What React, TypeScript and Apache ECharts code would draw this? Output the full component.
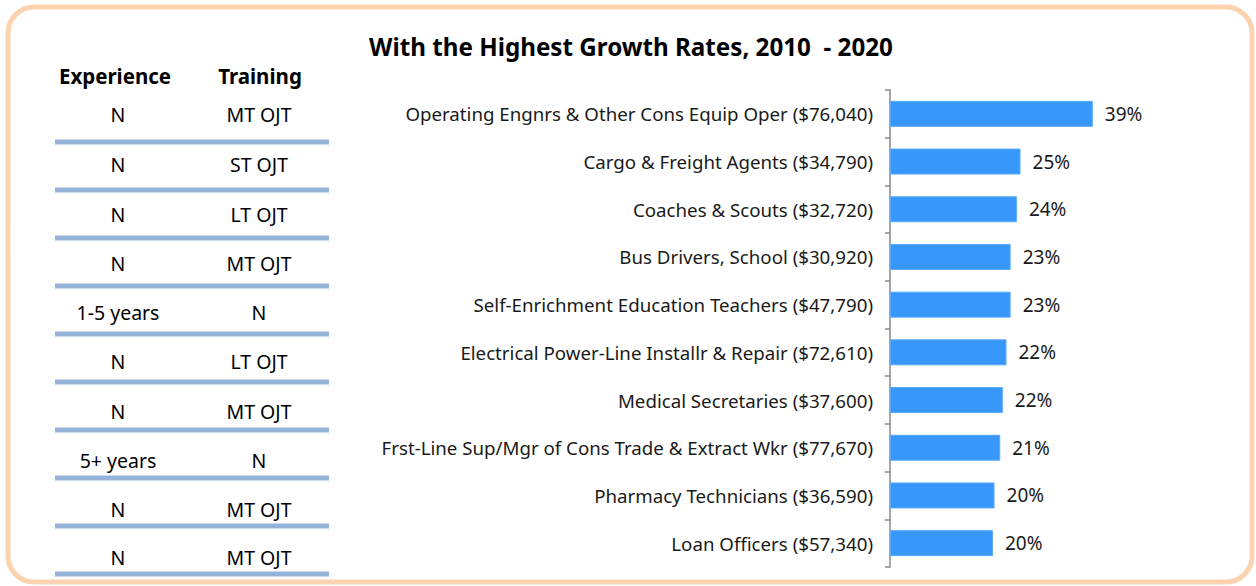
import React, { useEffect, useRef } from "react";
import * as echarts from "echarts";

const categories = [
  "Operating Engnrs & Other Cons Equip Oper ($76,040)",
  "Cargo & Freight Agents ($34,790)",
  "Coaches & Scouts ($32,720)",
  "Bus Drivers, School ($30,920)",
  "Self-Enrichment Education Teachers ($47,790)",
  "Electrical Power-Line Installr & Repair ($72,610)",
  "Medical Secretaries ($37,600)",
  "Frst-Line Sup/Mgr of Cons Trade & Extract Wkr ($77,670)",
  "Pharmacy Technicians ($36,590)",
  "Loan Officers ($57,340)",
];
const growthRates = [39.0, 25.1, 24.4, 23.2, 23.2, 22.4, 21.7, 21.2, 20.1, 19.8];
const experience = ["N", "N", "N", "N", "1-5 years", "N", "N", "5+ years", "N", "N"];
const training = ["MT OJT", "ST OJT", "LT OJT", "MT OJT", "N", "LT OJT", "MT OJT", "N", "MT OJT", "MT OJT"];
const tableHeaders = ["Experience", "Training"];
const chartTitle = "With the Highest Growth Rates, 2010  - 2020";

const FONT = "'Noto Sans', 'Open Sans', sans-serif";
const TEXT = "#1a1a1a";

export default function App() {
  const ref = useRef<HTMLDivElement>(null);
  useEffect(() => {
    if (!ref.current) return;
    const chart = echarts.init(ref.current, null, { renderer: "svg" });
    const rowY = [114, 164, 214, 263, 312, 361, 411, 460, 509, 557];
    const lineY = [142, 190, 238, 286, 334, 382, 430, 478, 526, 574];
    const graphics: any[] = [
      {
        type: "rect",
        shape: { x: 8, y: 7, width: 1244, height: 575, r: 26 },
        style: { fill: "#fff", stroke: "#FBD3B0", lineWidth: 5 },
        z: -10,
      },
      {
        type: "text",
        x: 631,
        y: 46,
        style: {
          text: chartTitle,
          font: `bold 24.2px ${FONT}`,
          fill: "#000",
          align: "center",
          verticalAlign: "middle",
        },
      },
      {
        type: "text",
        x: 115,
        y: 76,
        style: { text: tableHeaders[0], font: `bold 20.5px ${FONT}`, fill: "#000", align: "center", verticalAlign: "middle" },
      },
      {
        type: "text",
        x: 260,
        y: 76,
        style: { text: tableHeaders[1], font: `bold 20.5px ${FONT}`, fill: "#000", align: "center", verticalAlign: "middle" },
      },
    ];
    experience.forEach((e, i) => {
      graphics.push({
        type: "text",
        x: 118,
        y: rowY[i],
        style: { text: e, font: `19.5px ${FONT}`, fill: "#000", align: "center", verticalAlign: "middle" },
      });
      graphics.push({
        type: "text",
        x: 259,
        y: rowY[i],
        style: { text: training[i], font: `19.5px ${FONT}`, fill: "#000", align: "center", verticalAlign: "middle" },
      });
      graphics.push({
        type: "line",
        shape: { x1: 55, y1: lineY[i], x2: 329, y2: lineY[i] },
        style: { stroke: "#95B3D7", lineWidth: 5 },
      });
    });

    chart.setOption({
      animation: false,
      grid: { left: 890, top: 90, height: 477, width: 260, containLabel: false },
      xAxis: { type: "value", min: 0, max: 50, show: false },
      yAxis: {
        type: "category",
        inverse: true,
        data: categories,
        axisLine: { show: true, lineStyle: { color: "#8a8a8a", width: 1.5 } },
        axisTick: { show: true, length: 5, lineStyle: { color: "#8a8a8a", width: 1.5 } },
        axisLabel: { color: TEXT, fontSize: 18.7, fontFamily: FONT, margin: 17 },
        splitLine: { show: false },
      },
      series: [
        {
          type: "bar",
          data: growthRates,
          barWidth: 26,
          itemStyle: { color: "#3797FA", borderColor: "#5aaaf8", borderWidth: 1 },
          label: {
            show: true,
            position: "right",
            distance: 12,
            color: TEXT,
            fontSize: 19,
            fontFamily: FONT,
            formatter: (p: any) => `${Math.round(p.value)}%`,
          },
        },
      ],
      graphic: graphics,
    });
    return () => chart.dispose();
  }, []);
  return (
    <div
      ref={ref}
      style={{ position: "fixed", left: 0, top: 0, width: 1256, height: 586, background: "#fff" }}
    />
  );
}
